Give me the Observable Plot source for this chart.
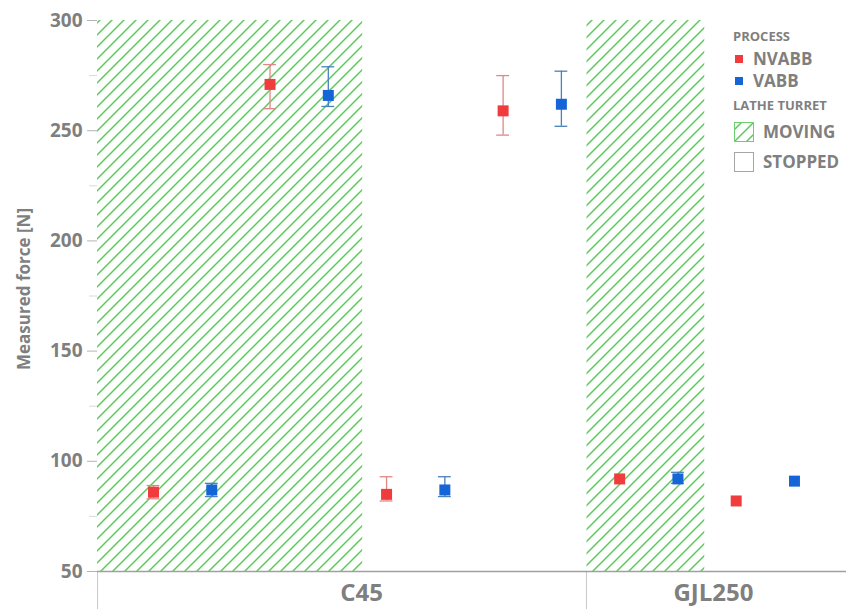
<!DOCTYPE html>
<html><head><meta charset="utf-8">
<script src="https://cdn.jsdelivr.net/npm/d3@7"></script>
<script src="https://cdn.jsdelivr.net/npm/@observablehq/plot@0.6"></script>
<style>body{margin:0;background:#fff} #chart{position:relative;width:846px;height:609px}</style>
</head><body><div id="chart"></div>
<script>
// ---- data ----
const material  = ["C45","C45","C45","C45","C45","C45","C45","C45","GJL250","GJL250","GJL250","GJL250"];
const process   = ["NVABB","VABB","NVABB","VABB","NVABB","VABB","NVABB","VABB","NVABB","VABB","NVABB","VABB"];
const turret    = ["MOVING","MOVING","MOVING","MOVING","STOPPED","STOPPED","STOPPED","STOPPED","MOVING","MOVING","STOPPED","STOPPED"];
const meanForce = [86, 87, 271, 266, 85, 87, 259, 262, 92, 92, 82, 91];
const errLow    = [83, 84, 260, 261, 82, 84, 248, 252, 92, 90, 82, 91];
const errHigh   = [89, 90, 280, 279, 93, 93, 275, 277, 92, 95, 82, 91];
const groupLabels   = ["C45", "GJL250"];
const groupLabelPos = [3.57, 9.61];
const groupBounds   = [-0.96, 7.43];
const movingStart   = [-0.96, 7.44];
const movingEnd     = [3.59, 9.46];
const yTicks      = [50, 100, 150, 200, 250, 300];
const yMinorTicks = [75, 125, 175, 225, 275];
const processNames = ["NVABB", "VABB"];
const turretNames  = ["MOVING", "STOPPED"];
const yTitle = "Measured force [N]";

// ---- build ----
const data = meanForce.map((m, i) => ({i, material: material[i], process: process[i], turret: turret[i], mean: m, low: errLow[i], high: errHigh[i]}));
const withErr = data.filter(d => d.high > d.low);
const regions = movingStart.map((s, k) => ({x1: s, x2: movingEnd[k]}));
const grey = "#7f7f7f";
const capHalf = 0.11;
const errColor = p => p === "NVABB" ? "#e38686" : "#4a80bd";
const font = "'Open Sans', sans-serif";

const plot = Plot.plot({
  width: 846, height: 609,
  marginLeft: 97, marginRight: 0, marginTop: 20, marginBottom: 38,
  style: {fontFamily: font, background: "white", color: grey},
  x: {domain: [-0.961, 11.893], axis: null},
  y: {domain: [50, 300], axis: null},
  color: {domain: processNames, range: ["#f03c3c", "#1565d8"]},
  marks: [
    Plot.rect(regions, {x1: "x1", x2: "x2", y1: 50, y2: 300, fill: "url(#hatch)"}),
    Plot.axisY(yMinorTicks, {tickSize: 8, tickFormat: () => "", stroke: "#dadada", label: null}),
    Plot.axisY(yTicks, {tickSize: 10, tickPadding: 5, fontSize: 19, fontWeight: "bold", fill: grey, stroke: "#b5b5b5", label: null}),
    Plot.axisX(groupBounds, {tickSize: 38, tickFormat: () => "", stroke: "#c8c8c8", label: null}),
    Plot.axisX(groupLabelPos, {tickSize: 0, tickPadding: 12, tickFormat: d => groupLabels[groupLabelPos.indexOf(d)], fontSize: 24, fontWeight: "bold", fill: grey, label: null}),
    Plot.ruleY([50], {stroke: "#a0a0a0", strokeWidth: 1.5}),
    Plot.ruleX(withErr, {x: "i", y1: "low", y2: "high", stroke: d => errColor(d.process), strokeWidth: 1.3}),
    Plot.ruleY(withErr, {y: "low", x1: d => d.i - capHalf, x2: d => d.i + capHalf, stroke: d => errColor(d.process), strokeWidth: 1.3}),
    Plot.ruleY(withErr, {y: "high", x1: d => d.i - capHalf, x2: d => d.i + capHalf, stroke: d => errColor(d.process), strokeWidth: 1.3}),
    Plot.dot(data, {x: "i", y: "mean", symbol: "square", r: 6.2, fill: "process", stroke: "none"})
  ]
});

const svg = d3.select(plot);
const defs = svg.insert("defs", ":first-child");
const pat = defs.append("pattern").attr("id", "hatch").attr("patternUnits", "userSpaceOnUse")
  .attr("width", 12).attr("height", 12);
pat.append("path").attr("d", "M0,12 L12,0 M-3,3 L3,-3 M9,15 L15,9")
  .attr("stroke", "#5cc95c").attr("stroke-width", 1.5).attr("fill", "none");

// y title
svg.append("text").attr("transform", "translate(24,289) rotate(-90)")
  .attr("text-anchor", "middle").attr("dy", "0.35em")
  .attr("font-family", font).attr("font-size", 17).attr("font-weight", "bold").attr("fill", grey)
  .text(yTitle);

// legend
const lg = svg.append("g").attr("font-family", font).attr("fill", grey).attr("font-weight", "bold").attr("text-anchor", "start");
lg.append("text").attr("x", 733).attr("y", 36).attr("dy", "0.35em").attr("font-size", 13).text("PROCESS");
const procColors = ["#f03c3c", "#1565d8"];
processNames.forEach((p, k) => {
  const cy = 59 + k * 22;
  lg.append("rect").attr("x", 735).attr("y", cy - 4).attr("width", 8).attr("height", 8).attr("fill", procColors[k]);
  lg.append("text").attr("x", 753).attr("y", cy).attr("dy", "0.35em").attr("font-size", 17).text(p);
});
lg.append("text").attr("x", 733).attr("y", 105).attr("dy", "0.35em").attr("font-size", 13).text("LATHE TURRET");
turretNames.forEach((t, k) => {
  const cy = 132 + k * 30;
  lg.append("rect").attr("x", 734.5).attr("y", cy - 9.5).attr("width", 19).attr("height", 19)
    .attr("fill", k === 0 ? "url(#hatch)" : "white").attr("stroke", k === 0 ? "#6cd06c" : "#a6a6a6").attr("stroke-width", 1);
  lg.append("text").attr("x", 763).attr("y", cy).attr("dy", "0.35em").attr("font-size", 17).text(t);
});

document.getElementById("chart").appendChild(plot);
</script>
</body></html>
